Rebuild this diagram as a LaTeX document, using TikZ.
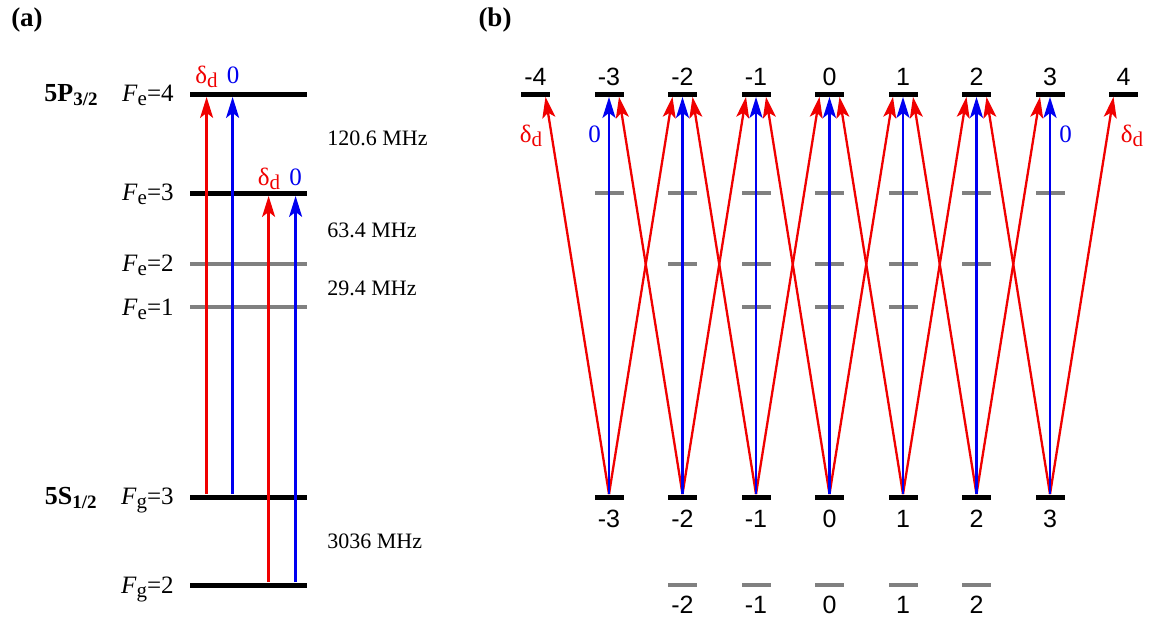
\documentclass[tikz,border=0pt]{standalone}
\usepackage{fontspec}
\setmainfont{Liberation Serif}
\newfontfamily\numfont{Liberation Sans}
\usetikzlibrary{arrows.meta,positioning}
\usepackage{xcolor}
\definecolor{detuned}{HTML}{F00000}
\definecolor{resonant}{HTML}{0000F0}
\definecolor{faint}{HTML}{808080}
\definecolor{ink}{HTML}{000000}
\newcommand\lowsub[1]{\raisebox{-0.35ex}{\fontsize{10.5}{12}\selectfont#1}}
\newcommand\statesub[1]{\raisebox{-0.35ex}{\fontsize{9.5}{11}\selectfont#1}}
\tikzset{
  every node/.style={inner sep=0pt,text=ink},
  lbl/.style={font=\fontsize{11}{13}\selectfont},
  flbl/.style={font=\fontsize{12.5}{14}\selectfont,anchor=base east},
  detlbl/.style={font=\fontsize{12.5}{14}\selectfont,anchor=base},
  numlbl/.style={font=\fontsize{12.5}{14}\selectfont\numfont,anchor=base},
  panellbl/.style={font=\fontsize{13.5}{15}\selectfont\bfseries},
  statelbl/.style={font=\fontsize{13}{15}\selectfont\bfseries,anchor=base east},
  bigbar/.style={fill=ink,minimum width=58.5pt,minimum height=2.5pt},
  smallbar/.style={fill=ink,minimum width=14.5pt,minimum height=2.5pt},
  greybar/.style={fill=faint,minimum height=2.1pt},
  redarr/.style={-{Stealth[length=10.5pt,width=6.5pt,inset=2.5pt]},line width=1.15pt,draw=detuned},
  bluearr/.style={-{Stealth[length=10.5pt,width=6.5pt,inset=2.5pt]},line width=1.15pt,draw=resonant},
}

\begin{document}
\begin{tikzpicture}[x=0.5pt,y=-0.5pt]
\useasboundingbox (0,0) rectangle (1157,618);
\node[panellbl] (pa) at (27,20) {(a)};
\node[panellbl] (pb) at (495,20) {(b)};
\node[bigbar] (fe4) at (248.5,94) {};
\node[bigbar] (fe3) at (248.5,193) {};
\node[bigbar,greybar] (fe2) at (248.5,264) {};
\node[bigbar,greybar] (fe1) at (248.5,307) {};
\node[bigbar] (fg3) at (248.5,497) {};
\node[bigbar] (fg2) at (248.5,585) {};
\node[flbl] (lfe4) at (174,101.5) {\textit{F}\lowsub{e}=4};
\node[flbl] (lfe3) at (174,200) {\textit{F}\lowsub{e}=3};
\node[flbl] (lfe2) at (174,271) {\textit{F}\lowsub{e}=2};
\node[flbl] (lfe1) at (174,315) {\textit{F}\lowsub{e}=1};
\node[flbl] (lfg3) at (174,504) {\textit{F}\lowsub{g}=3};
\node[flbl] (lfg2) at (174,593) {\textit{F}\lowsub{g}=2};
\node[statelbl] (p32) at (98,101.5) {5P\statesub{3/2}};
\node[statelbl] (s12) at (97,504) {5S\statesub{1/2}};
\node[lbl,anchor=base west] (f43) at (327,145) {120.6 MHz};
\node[lbl,anchor=base west] (f32) at (327,237) {63.4 MHz};
\node[lbl,anchor=base west] (f21) at (327,295) {29.4 MHz};
\node[lbl,anchor=base west] (f32g) at (327,548) {3036 MHz};
\draw[redarr] ([xshift=8.5pt]fg3.north west) -- ([xshift=8.5pt]fe4.south west);
\draw[bluearr] ([xshift=21.5pt]fg3.north west) -- ([xshift=21.5pt]fe4.south west);
\draw[redarr] ([xshift=39.5pt]fg2.north west) -- ([xshift=39.5pt]fe3.south west);
\draw[bluearr] ([xshift=53pt]fg2.north west) -- ([xshift=53pt]fe3.south west);
\node[detlbl,text=detuned] (da1) at (206.5,83) {δ\lowsub{d}};
\node[detlbl,text=resonant] (za1) at (233,83) {0};
\node[detlbl,text=detuned] (da2) at (269,185) {δ\lowsub{d}};
\node[detlbl,text=resonant] (za2) at (295.5,185) {0};
\foreach \m in {-4,...,4} {
  \node[smallbar] (up\m) at ({829.5+73.5*(\m)},94) {};
  \node[numlbl] (tup\m) at ({829.5+73.5*(\m)},85) {\m};
}
\foreach \m in {-3,...,3}
  \node[smallbar,greybar] (mid\m) at ({829.5+73.5*(\m)},193) {};
\foreach \m in {-2,...,2}
  \node[smallbar,greybar] (two\m) at ({829.5+73.5*(\m)},264) {};
\foreach \m in {-1,...,1}
  \node[smallbar,greybar] (one\m) at ({829.5+73.5*(\m)},307) {};
\foreach \m in {-3,...,3} {
  \node[smallbar] (lo\m) at ({829.5+73.5*(\m)},497) {};
  \node[numlbl] (tlo\m) at ({829.5+73.5*(\m)},527) {\m};
}
\foreach \m in {-2,...,2} {
  \node[smallbar,greybar] (lt\m) at ({829.5+73.5*(\m)},585) {};
  \node[numlbl] (tlt\m) at ({829.5+73.5*(\m)},613) {\m};
}
\foreach \m in {-3,...,3} {
  \pgfmathtruncatemacro\lowm{\m-1}
  \pgfmathtruncatemacro\highm{\m+1}
  \draw[redarr] (lo\m.north) -- ([xshift=5pt]up\lowm.south);
  \draw[redarr] (lo\m.north) -- ([xshift=-5pt]up\highm.south);
}
\foreach \m in {-3,...,3}
  \draw[bluearr] (lo\m.north) -- (up\m.south);
\node[detlbl,text=detuned] (db1) at (531,142) {δ\lowsub{d}};
\node[detlbl,text=resonant] (zb1) at (594.5,142) {0};
\node[detlbl,text=resonant] (zb2) at (1065.5,142) {0};
\node[detlbl,text=detuned] (db2) at (1132,142) {δ\lowsub{d}};
\end{tikzpicture}
\end{document}
